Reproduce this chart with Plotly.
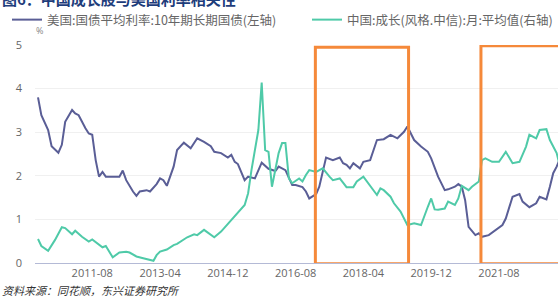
import plotly.graph_objects as go

us_dates = ["2010-04","2010-05","2010-07","2010-08","2010-10","2010-11","2010-12","2011-02","2011-03","2011-04",
            "2011-06","2011-07","2011-08","2011-09","2011-10","2011-11","2011-12","2012-04","2012-05","2012-06",
            "2012-08","2012-09","2012-10","2012-12","2013-01","2013-03","2013-04","2013-05","2013-06","2013-08",
            "2013-09","2013-11","2014-01","2014-02","2014-03","2014-05","2014-07","2014-08","2014-10","2014-12",
            "2015-01","2015-02","2015-03","2015-05","2015-06","2015-08","2015-10","2015-12","2016-02","2016-03",
            "2016-05","2016-07","2016-08","2016-10","2016-11","2016-12","2017-02","2017-03","2017-04","2017-05",
            "2017-07","2017-09","2017-10","2017-11","2017-12","2018-01","2018-03","2018-04","2018-06","2018-07",
            "2018-08","2018-10","2018-12","2019-02","2019-04","2019-05","2019-07","2019-09","2019-11","2019-12",
            "2020-02","2020-04","2020-05","2020-07","2020-08","2020-09","2020-10","2020-11","2021-01","2021-02",
            "2021-03","2021-05","2021-07","2021-09","2021-10","2021-12","2022-02","2022-03","2022-05","2022-07",
            "2022-08","2022-10","2022-11","2022-12","2023-01","2023-02"]
us_rate = [3.80,3.39,3.05,2.68,2.53,2.71,3.24,3.51,3.43,3.39,
           3.09,2.97,2.94,2.36,1.98,2.09,1.98,1.98,2.12,1.90,
           1.64,1.54,1.64,1.67,1.64,1.81,1.94,1.90,1.77,2.21,
           2.59,2.76,2.63,2.75,2.86,2.78,2.68,2.55,2.52,2.42,
           2.48,2.32,2.27,1.90,1.98,1.94,2.30,2.16,2.11,2.21,
           2.13,1.79,1.79,1.74,1.64,1.48,1.58,1.75,2.06,2.42,
           2.36,2.42,2.29,2.25,2.17,2.29,2.17,2.32,2.36,2.59,
           2.82,2.84,2.94,2.86,3.01,3.13,2.82,2.67,2.55,2.40,
           1.98,1.67,1.69,1.75,1.81,1.75,1.44,0.83,0.64,0.68,
           0.60,0.64,0.76,0.87,1.02,1.52,1.58,1.41,1.28,1.37,
           1.52,1.46,1.75,2.06,2.21,2.40]

cn_dates = ["2010-04","2010-05","2010-07","2010-09","2010-11","2010-12","2011-02","2011-03","2011-05","2011-07",
            "2011-08","2011-10","2011-11","2011-12","2012-02","2012-04","2012-06","2012-07","2012-09","2012-11",
            "2013-01","2013-02","2013-03","2013-04","2013-06","2013-08","2013-09","2013-12","2014-02","2014-03",
            "2014-05","2014-07","2014-08","2014-10","2015-01","2015-03","2015-05","2015-06","2015-07","2015-09",
            "2015-10","2015-11","2015-12","2016-01","2016-03","2016-04","2016-05","2016-06","2016-07","2016-09",
            "2016-10","2016-11","2016-12","2017-02","2017-04","2017-06","2017-07","2017-09","2017-11","2018-01",
            "2018-02","2018-04","2018-05","2018-07","2018-08","2018-09","2018-10","2018-12","2019-01","2019-03",
            "2019-05","2019-07","2019-09","2019-11","2019-12","2020-01","2020-02","2020-04","2020-05","2020-07",
            "2020-08","2020-09","2020-11","2020-12","2021-02","2021-03","2021-04","2021-06","2021-08","2021-10",
            "2021-12","2022-02","2022-04","2022-05","2022-07","2022-08","2022-10","2022-11","2023-01","2023-02"]
cn_growth = [0.55,0.39,0.28,0.53,0.82,0.80,0.66,0.74,0.60,0.49,
             0.54,0.41,0.36,0.39,0.13,0.24,0.26,0.24,0.15,0.11,
             0.07,0.05,0.18,0.26,0.31,0.41,0.44,0.59,0.66,0.64,
             0.76,0.64,0.59,0.72,0.99,1.14,1.33,1.60,2.13,3.05,
             4.14,2.59,2.55,1.75,2.52,2.75,2.75,1.94,1.83,1.94,
             1.87,2.02,2.13,2.09,2.17,1.98,1.90,1.94,1.74,1.74,
             1.87,1.98,1.87,1.67,1.56,1.71,1.67,1.52,1.37,1.18,
             0.87,0.91,0.87,1.29,1.48,1.23,1.22,1.25,1.41,1.33,
             1.48,1.77,1.67,1.75,1.87,2.36,2.40,2.32,2.32,2.55,
             2.29,2.32,2.67,2.94,2.86,3.05,3.07,2.82,2.52,2.20]

tick_vals = ["2011-08","2013-04","2014-12","2016-08","2018-04","2019-12","2021-08"]
box_starts = ["2017-01-25", "2021-02-20"]
box_ends = ["2019-05-12", "2023-08-01"]
box_tops = [4.95, 4.98]

title_text = "图6：中国成长股与美国利率相关性"
us_name = "美国:国债平均利率:10年期长期国债(左轴)"
cn_name = "中国:成长(风格.中信):月:平均值(右轴)"
source_text = "资料来源：同花顺，东兴证券研究所"

BLUE = "#5a5e96"
GREEN = "#4fcaa8"
ORANGE = "#f5893a"
FONT = "Noto Sans CJK SC"

fig = go.Figure()
fig.add_trace(go.Scatter(x=us_dates, y=us_rate, mode="lines", name=us_name,
                         line=dict(color=BLUE, width=2), legend="legend"))
fig.add_trace(go.Scatter(x=cn_dates, y=cn_growth, mode="lines", name=cn_name,
                         line=dict(color=GREEN, width=2), yaxis="y2", legend="legend2"))

for s, e, t in zip(box_starts, box_ends, box_tops):
    fig.add_shape(type="rect", xref="x", yref="y", x0=s, x1=e, y0=-0.02, y1=t,
                  line=dict(color=ORANGE, width=3), fillcolor="rgba(0,0,0,0)", layer="above")

legend_common = dict(orientation="h", xanchor="left", y=1 - 5/304, yanchor="top",
                     yref="container", font=dict(size=12.5, color="#666", family=FONT),
                     bgcolor="rgba(0,0,0,0)", itemwidth=30)

fig.update_layout(
    width=558, height=304,
    margin=dict(l=35, r=0, t=45, b=41, autoexpand=False),
    paper_bgcolor="white", plot_bgcolor="white",
    font=dict(family=FONT, size=11, color="#666"),
    showlegend=True,
    legend=dict(x=-28/523, **legend_common),
    legend2=dict(x=272/523, **legend_common),
    xaxis=dict(type="date", range=["2010-03-05", "2023-01-13"],
               tickvals=tick_vals, ticktext=tick_vals, showgrid=False,
               showline=True, linecolor="#b4bad6", linewidth=1, ticks="",
               tickfont=dict(size=11, color="#666", family="Open Sans")),
    yaxis=dict(range=[0, 5], tickvals=[0, 1, 2, 3, 4, 5], showgrid=True,
               gridcolor="#f0f0f0", zeroline=False, showline=False, ticks="",
               ticklabelstandoff=12,
               tickfont=dict(size=11, color="#666", family="Open Sans")),
    yaxis2=dict(range=[0, 5], overlaying="y", side="right", showgrid=False,
                showticklabels=False, zeroline=False, showline=False),
)

fig.add_annotation(text=title_text, xref="paper", yref="paper", x=-35/523, y=1 + 46/218,
                   xanchor="left", yanchor="middle", showarrow=False,
                   font=dict(family=FONT, size=15, color="#1e3d7b", weight="bold"))
fig.add_annotation(text="%", xref="paper", yref="paper", x=-0.002, y=1 + 14/218,
                   xanchor="left", yanchor="middle", showarrow=False,
                   font=dict(family="Open Sans", size=9, color="#888"))
fig.add_annotation(text=source_text, xref="paper", yref="paper", x=-35/523, y=-27/218,
                   xanchor="left", yanchor="middle", showarrow=False,
                   font=dict(family=FONT, size=11, color="#333", style="italic"))

fig.write_html("out.html")
